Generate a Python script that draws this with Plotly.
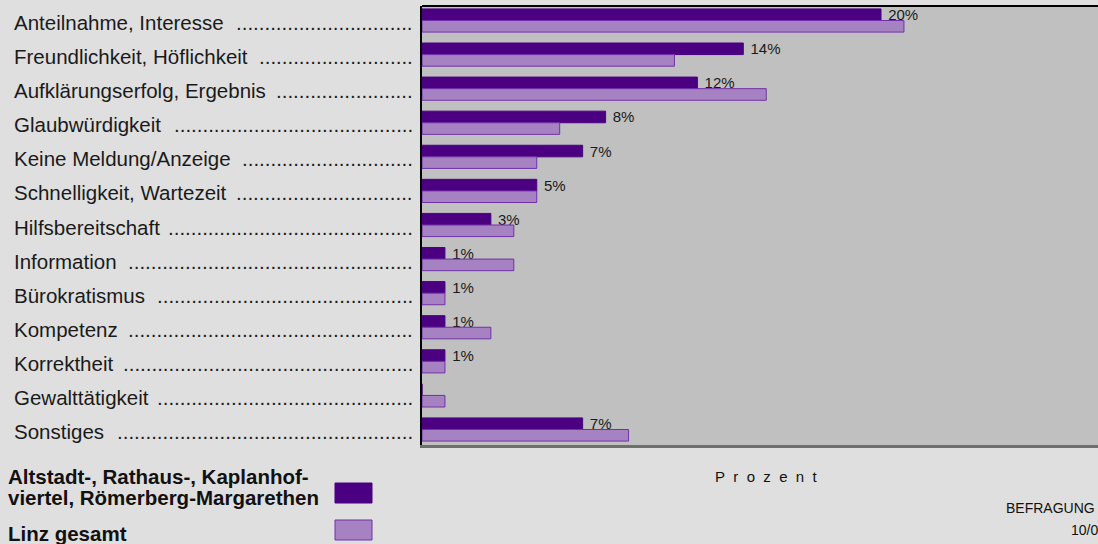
import plotly.graph_objects as go

categories = [
    "Anteilnahme, Interesse",
    "Freundlichkeit, Höflichkeit",
    "Aufklärungserfolg, Ergebnis",
    "Glaubwürdigkeit",
    "Keine Meldung/Anzeige",
    "Schnelligkeit, Wartezeit",
    "Hilfsbereitschaft",
    "Information",
    "Bürokratismus",
    "Kompetenz",
    "Korrektheit",
    "Gewalttätigkeit",
    "Sonstiges",
]
altstadt = [20, 14, 12, 8, 7, 5, 3, 1, 1, 1, 1, 0, 7]
linz = [21, 11, 15, 6, 5, 5, 4, 4, 1, 3, 1, 1, 9]
series_names = [
    "Altstadt-, Rathaus-, Kaplanhof-<br>viertel, Römerberg-Margarethen",
    "Linz gesamt",
]
axis_title = "P\u00a0\u00a0r\u00a0\u00a0o\u00a0\u00a0z\u00a0\u00a0e\u00a0\u00a0n\u00a0\u00a0t"
footer_lines = ["BEFRAGUNG", "10/0"]

DARK = "#4b0082"
LIGHT = "#a782c2"
LIGHT_LINE = "#7030a8"
PAGE = "#dfdfdf"
PLOT = "#c0c0c0"
FONT = "Liberation Sans, Arial, sans-serif"
LABEL_SIZE = 20.5

W, H = 1098, 544
L, R, T, B = 422, 0, 6, 99
pw, ph = W - L - R, H - T - B

# Arial / Liberation Sans advance widths (per 1000 em) for leader-dot layout
AW = {
    "A": 667, "B": 667, "F": 611, "G": 778, "H": 722, "I": 278, "K": 667,
    "M": 833, "S": 667, "W": 944,
    "a": 556, "b": 556, "c": 500, "d": 556, "e": 556, "f": 278, "g": 556,
    "h": 556, "i": 222, "j": 222, "k": 500, "l": 222, "m": 833, "n": 556,
    "o": 556, "p": 556, "r": 333, "s": 500, "t": 278, "u": 556, "v": 500,
    "w": 722, "y": 500, "z": 500, "ä": 556, "ö": 556, "ü": 556,
    ",": 278, " ": 278, "/": 278, ".": 278, "-": 333,
}


def text_w(s, size):
    return sum(AW.get(ch, 556) for ch in s) * size / 1000.0


def px_x(x):
    return (x - L) / pw


def px_y(y):
    return (H - B - y) / ph


row_px = 34.08
y_top = -(20.5 - T) / row_px
y_bot = (len(categories) - 1) + ((H - B) - 429.5) / row_px

fig = go.Figure()
fig.add_trace(go.Bar(
    y=categories, x=altstadt, orientation="h", name="Altstadt",
    marker=dict(color=DARK, line=dict(color=DARK, width=1)),
    text=[("\u00a0" + f"{v}%") if v > 0 else "" for v in altstadt],
    textposition="outside", cliponaxis=False, constraintext="none",
    textfont=dict(family=FONT, size=15, color="#1a1a1a"),
    showlegend=False,
))
fig.add_trace(go.Bar(
    y=categories, x=linz, orientation="h", name="Linz gesamt",
    marker=dict(color=LIGHT, line=dict(color=LIGHT_LINE, width=1)),
    showlegend=False,
))

annotations = []
label_left, dots_right = 12, 415
dot_w = text_w(".", LABEL_SIZE)
for c in categories:
    free = (dots_right - label_left) - text_w(c + "  ", LABEL_SIZE)
    n = max(int(free // dot_w), 0)
    annotations.append(dict(
        x=px_x(label_left), xref="paper", y=c, yref="y", xanchor="left",
        yanchor="middle", yshift=-2,
        text=c, showarrow=False,
        font=dict(family=FONT, size=LABEL_SIZE, color="#1a1a1a"),
    ))
    annotations.append(dict(
        x=px_x(dots_right), xref="paper", y=c, yref="y", xanchor="right",
        yanchor="middle", yshift=-2,
        text="." * n, showarrow=False,
        font=dict(family=FONT, size=LABEL_SIZE, color="#1a1a1a"),
    ))

lines1 = series_names[0].split("<br>")
annotations += [
    dict(x=px_x(6), xref="paper", y=px_y(477), yref="paper", xanchor="left",
         yanchor="middle", text="<b>" + lines1[0] + "</b>", showarrow=False,
         font=dict(family=FONT, size=20.5, color="#111")),
    dict(x=px_x(6), xref="paper", y=px_y(497), yref="paper", xanchor="left",
         yanchor="middle", text="<b>" + lines1[1] + "</b>", showarrow=False,
         font=dict(family=FONT, size=20.5, color="#111")),
    dict(x=px_x(6), xref="paper", y=px_y(533), yref="paper", xanchor="left",
         yanchor="middle", text="<b>" + series_names[1] + "</b>", showarrow=False,
         font=dict(family=FONT, size=20.5, color="#111")),
    dict(x=px_x(766), xref="paper", y=px_y(476), yref="paper", xanchor="center",
         yanchor="middle", text=axis_title, showarrow=False,
         font=dict(family=FONT, size=15, color="#111")),
    dict(x=px_x(1004), xref="paper", y=px_y(508), yref="paper", xanchor="left",
         yanchor="middle", text=footer_lines[0], showarrow=False,
         font=dict(family=FONT, size=14, color="#111")),
    dict(x=px_x(1069), xref="paper", y=px_y(530), yref="paper", xanchor="left",
         yanchor="middle", text=footer_lines[1], showarrow=False,
         font=dict(family=FONT, size=14, color="#111")),
]

shapes = [
    dict(type="rect", xref="paper", yref="paper",
         x0=px_x(335), x1=px_x(372), y0=px_y(483), y1=px_y(503),
         fillcolor=DARK, line=dict(color=DARK, width=1)),
    dict(type="rect", xref="paper", yref="paper",
         x0=px_x(335), x1=px_x(372), y0=px_y(520), y1=px_y(540),
         fillcolor=LIGHT, line=dict(color=LIGHT_LINE, width=1)),
    dict(type="line", xref="paper", yref="paper", x0=0, x1=1, y0=1, y1=1,
         line=dict(color="#000", width=2)),
]

fig.update_layout(
    width=W, height=H,
    margin=dict(l=L, r=R, t=T, b=B),
    paper_bgcolor=PAGE, plot_bgcolor=PLOT,
    barmode="group", bargap=0.32, bargroupgap=0.0,
    xaxis=dict(range=[0, pw / 22.95], showticklabels=False, showgrid=False,
               zeroline=False, ticks="", showline=True, linecolor="#6e6e6e",
               linewidth=3, fixedrange=True),
    yaxis=dict(categoryorder="array", categoryarray=categories,
               range=[y_bot, y_top], showticklabels=False, showgrid=False,
               ticks="", showline=True, linecolor="#000", linewidth=2,
               zeroline=False, fixedrange=True),
    annotations=annotations, shapes=shapes,
    font=dict(family=FONT),
)

fig.write_html(
    "out.html",
    config={"displayModeBar": False},
    post_script="document.body.style.margin='0';document.body.style.overflow='hidden';",
)
